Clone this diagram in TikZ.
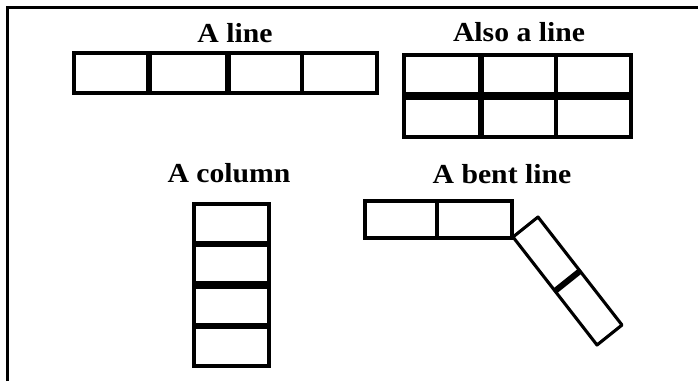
\documentclass[tikz,border=0pt]{standalone}
\usepackage{fontspec}
\newfontfamily\lblfont[FakeStretch=1.08]{Liberation Serif}
\begin{document}
\begin{tikzpicture}[x=1pt,y=-1pt,
  outer/.style={draw=black,line width=3.1pt},
  thick divider/.style={draw=black,line width=5.5pt},
  thin divider/.style={draw=black,line width=3.1pt},
  title/.style={anchor=base,inner sep=0pt,font=\lblfont\bfseries\fontsize{27.5}{30}\selectfont}]
\useasboundingbox[fill=white] (0,0) rectangle (698,381);
% frame
\draw[line width=2.4pt] (7.5,381) -- (7.5,7.5) -- (698,7.5);

% A line
\node[title] (t1) at (235,42) {A line};
\draw[thick divider] (149,53) -- (149,93);
\draw[thick divider] (228,53) -- (228,93);
\draw[draw=black,line width=4.5pt] (302,53) -- (302,93);
\draw[outer] (74,53) rectangle (377,93);

% Also a line
\node[title] (t2) at (519,41) {Also a line};
\draw[draw=black,line width=7.5pt] (404,96) -- (631,96);
\draw[draw=black,line width=6.5pt] (481,55) -- (481,137);
\draw[draw=black,line width=4.5pt] (556,55) -- (556,137);
\draw[outer] (404,55) rectangle (631,137);

% A column
\node[title] (t3) at (229,182) {A column};
\draw[draw=black,line width=6.5pt] (194,244) -- (269,244);
\draw[draw=black,line width=7.5pt] (194,285) -- (269,285);
\draw[draw=black,line width=5.5pt] (194,326) -- (269,326);
\draw[outer] (194,204) rectangle (269,366);

% A bent line
\node[title] (t4) at (502,183) {A bent line};
\draw[thin divider] (437,201) -- (437,238);
\draw[outer] (365,201) rectangle (512,238);
\coordinate (ba) at (513,237);
\coordinate (bb) at (538,217);
\coordinate (bc) at (622,325);
\coordinate (bd) at (597,345);
\coordinate (bm1) at (555,291);
\coordinate (bm2) at (580,271);
\draw[draw=black,line width=6pt] (bm1) -- (bm2);
\draw[outer,line join=round] (ba) -- (bb) -- (bc) -- (bd) -- cycle;
\end{tikzpicture}
\end{document}
